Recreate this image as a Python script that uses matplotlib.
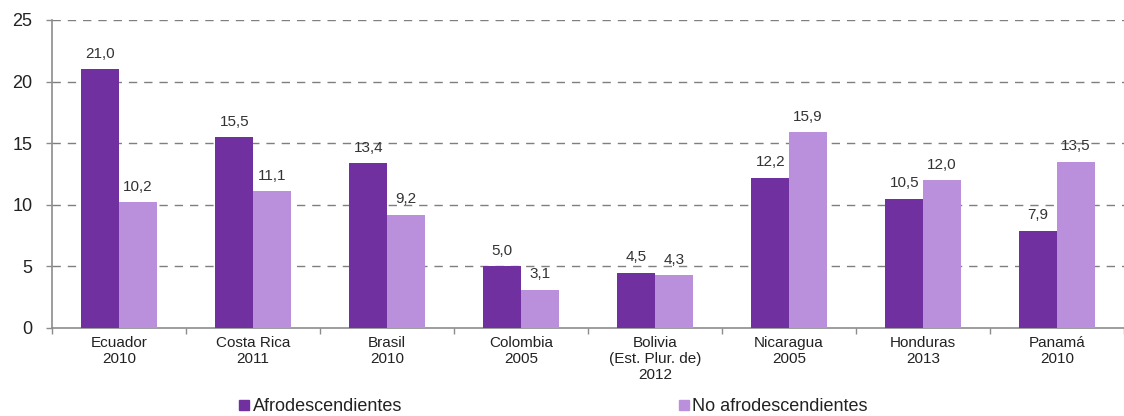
import matplotlib
matplotlib.use("Agg")
import matplotlib.pyplot as plt
import numpy as np
from matplotlib.patches import Patch

categories = ["Ecuador\n2010", "Costa Rica\n2011", "Brasil\n2010", "Colombia\n2005",
              "Bolivia\n(Est. Plur. de)\n2012", "Nicaragua\n2005", "Honduras\n2013", "Panamá\n2010"]
afro = [21.0, 15.5, 13.4, 5.0, 4.5, 12.2, 10.5, 7.9]
no_afro = [10.2, 11.1, 9.2, 3.1, 4.3, 15.9, 12.0, 13.5]
series_names = ["Afrodescendientes", "No afrodescendientes"]
yticks = [0, 5, 10, 15, 20, 25]

c_dark = "#7030A0"
c_light = "#BA8FDC"
txt = "#333333"
axcol = "#8C8C8C"

plt.rcParams['font.family'] = ['Liberation Sans', 'DejaVu Sans']

fig = plt.figure(figsize=(11.24, 4.16), dpi=100)
ax = fig.add_axes([52/1124, 88/416, 1 - 52/1124, (328-20)/416])

x = np.arange(len(categories))
w = 0.28
ax.bar(x - w/2, afro, width=w, color=c_dark, zorder=3)
ax.bar(x + w/2, no_afro, width=w, color=c_light, zorder=3)

for xi, v in zip(x - w/2, afro):
    ax.annotate(f"{v:.1f}".replace(".", ","), (xi, v), xytext=(0, 6), textcoords="offset points",
                ha="center", va="bottom", fontsize=11, color=txt)
for xi, v in zip(x + w/2, no_afro):
    ax.annotate(f"{v:.1f}".replace(".", ","), (xi, v), xytext=(0, 6), textcoords="offset points",
                ha="center", va="bottom", fontsize=11, color=txt)

ax.set_xlim(-0.5, len(categories) - 0.5)
ax.set_ylim(0, 25)
ax.set_yticks(yticks)
ax.set_yticklabels([str(t) for t in yticks], fontsize=13, color="#222222")
for t in yticks[1:]:
    ax.axhline(t, color="#7F7F7F", linestyle=(0, (6, 5)), linewidth=1.0, zorder=1)

ax.set_xticks(np.arange(len(categories) + 1) - 0.5)
ax.set_xticklabels([])
ax.set_xticks(x, minor=True)
ax.set_xticklabels(categories, minor=True, fontsize=11, color="#222222", linespacing=1.15)
ax.tick_params(axis="x", which="major", length=4, color=axcol, width=1)
ax.tick_params(axis="x", which="minor", length=0, pad=6)
ax.tick_params(axis="y", length=4, color=axcol, width=1, pad=10)

for s in ["top", "right"]:
    ax.spines[s].set_visible(False)
ax.spines["left"].set_color(axcol)
ax.spines["bottom"].set_color(axcol)
ax.spines["left"].set_linewidth(1.2)
ax.spines["bottom"].set_linewidth(1.2)

handles = [Patch(color=c_dark), Patch(color=c_light)]
fig.legend(handles, series_names, loc="center", bbox_to_anchor=(0.4925, 0.022), ncol=2,
           frameon=False, fontsize=13, handlelength=0.55, handleheight=0.55, handletextpad=0.2,
           columnspacing=15.3, labelcolor="#222222")

fig.savefig("out.png", dpi=100)
